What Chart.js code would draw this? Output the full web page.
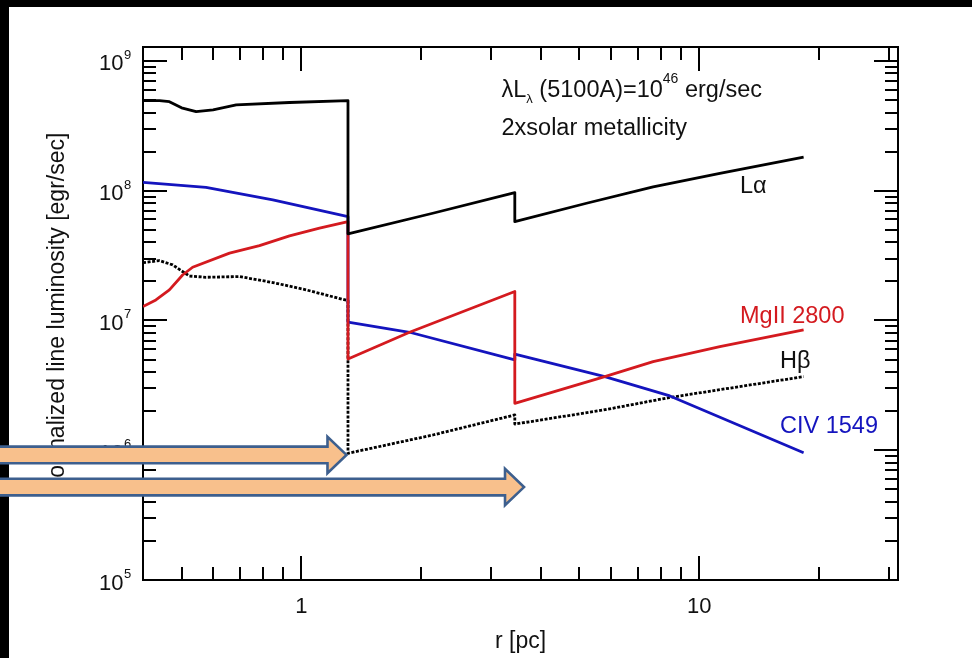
<!DOCTYPE html>
<html>
<head>
<meta charset="utf-8">
<title>Normalized line luminosity vs r</title>
<script src="https://cdn.jsdelivr.net/npm/chart.js@4.4.1/dist/chart.umd.min.js"></script>
<style>
  html, body { margin: 0; padding: 0; background: #fff; }
  #wrap { width: 972px; height: 658px; }
</style>
</head>
<body>
<div id="wrap"><canvas id="chart" width="972" height="658"></canvas></div>
<script>
// values (r in pc, L in erg/s)
const lyaR = [0.40, 0.44, 0.466, 0.50, 0.544, 0.60, 0.686, 0.934, 1.31, 1.31, 2.14, 3.44, 3.44, 5.21, 7.66, 11.27, 18.3];
const lyaL = [4.94e8, 4.94e8, 4.85e8, 4.35e8, 4.06e8, 4.2e8, 4.58e8, 4.78e8, 4.94e8, 4.65e7, 6.7e7, 9.66e7, 5.77e7, 8.0e7, 1.07e8, 1.36e8, 1.81e8];

const civR = [0.40, 0.576, 0.848, 1.31, 1.31, 1.871, 3.44, 3.44, 5.79, 8.44, 18.3];
const civL = [1.16e8, 1.06e8, 8.5e7, 6.31e7, 9.69e6, 8.11e6, 4.97e6, 5.5e6, 3.69e6, 2.62e6, 9.57e5];

const mgR = [0.40, 0.431, 0.466, 0.503, 0.533, 0.66, 0.785, 0.934, 1.111, 1.31, 1.31, 1.871, 3.44, 3.44, 5.79, 7.66, 11.27, 18.3];
const mgL = [1.28e7, 1.44e7, 1.72e7, 2.24e7, 2.57e7, 3.30e7, 3.77e7, 4.48e7, 5.14e7, 5.77e7, 5.05e6, 8.11e6, 1.67e7, 2.3e6, 3.69e6, 4.82e6, 6.28e6, 8.45e6];

const hbR = [0.40, 0.44, 0.475, 0.523, 0.576, 0.699, 0.848, 1.029, 1.31, 1.31, 2.14, 3.44, 3.44, 5.74, 8.44, 18.3];
const hbL = [2.79e7, 2.89e7, 2.68e7, 2.20e7, 2.15e7, 2.18e7, 1.96e7, 1.72e7, 1.42e7, 9.47e5, 1.31e6, 1.87e6, 1.59e6, 2.04e6, 2.55e6, 3.69e6];

const xTickLabels = [1, 10];
const yTickExps = [5, 6, 7, 8, 9];
const xDecades = [-1, 0, 1];
const yDecades = [5, 6, 7, 8, 9];
const arrowTips = [{ x: 1.31, y: 9.2e5 }, { x: 3.66, y: 5.2e5 }];

const FONT = '"Liberation Sans", Arial, Helvetica, sans-serif';
const RED = '#d41a1f';
const BLUE = '#1414be';

function pts(rs, ls) {
    return rs.map((r, i) => ({ x: r, y: ls[i] }));
}

// 1..9 x 10^n for each decade, flagged major on the power of ten
function logTicks(decades) {
    const out = [];
    decades.forEach(e => {
        for (let s = 1; s <= 9; s++) out.push({ value: s * Math.pow(10, e), major: s === 1 });
    });
    return out;
}

function drawRuns(ctx, x, y, runs) {
    runs.forEach(([txt, size, dy]) => {
        ctx.font = size + 'px ' + FONT;
        ctx.fillText(txt, x, y + dy);
        x += ctx.measureText(txt).width;
    });
}

const paperPlugin = {
    id: 'paper',
    beforeDraw(chart) {
        const ctx = chart.ctx;
        ctx.save();
        ctx.fillStyle = '#fff';
        ctx.fillRect(0, 0, chart.width, chart.height);
        ctx.fillStyle = '#000';
        ctx.fillRect(0, 0, chart.width, 7);
        ctx.fillRect(0, 0, 9, chart.height);
        ctx.restore();
    },
    beforeDatasetsDraw(chart) {
        const ctx = chart.ctx;
        const a = chart.chartArea;
        const xs = chart.scales.x, ys = chart.scales.y;
        ctx.save();
        ctx.strokeStyle = '#000';
        ctx.lineWidth = 2;
        ctx.strokeRect(a.left, a.top, a.right - a.left, a.bottom - a.top);

        // inward ticks on all four sides
        ctx.beginPath();
        logTicks(xDecades).forEach(t => {
            const px = Math.round(xs.getPixelForValue(t.value));
            if (px < a.left + 1 || px > a.right - 1) return;
            const len = t.major ? 24 : 13;
            ctx.moveTo(px, a.bottom); ctx.lineTo(px, a.bottom - len);
            ctx.moveTo(px, a.top); ctx.lineTo(px, a.top + len);
        });
        logTicks(yDecades).forEach(t => {
            const py = Math.round(ys.getPixelForValue(t.value));
            if (py < a.top + 1 || py > a.bottom + 0.5) return;
            const len = t.major ? 24 : 13;
            ctx.moveTo(a.left, py); ctx.lineTo(a.left + len, py);
            ctx.moveTo(a.right, py); ctx.lineTo(a.right - len, py);
        });
        ctx.stroke();

        // tick labels
        ctx.fillStyle = '#111';
        ctx.textBaseline = 'alphabetic';
        ctx.font = '22px ' + FONT;
        ctx.textAlign = 'center';
        xTickLabels.forEach(v => {
            ctx.fillText(String(v), xs.getPixelForValue(v), a.bottom + 33);
        });
        yTickExps.forEach(e => {
            const py = ys.getPixelForValue(Math.pow(10, e));
            ctx.font = '22px ' + FONT;
            ctx.textAlign = 'right';
            ctx.fillText('10', a.left - 19.5, py + 9.5);
            ctx.font = '13px ' + FONT;
            ctx.textAlign = 'left';
            ctx.fillText(String(e), a.left - 19, py - 2);
        });

        // axis titles
        ctx.font = '23px ' + FONT;
        ctx.textAlign = 'center';
        ctx.fillText('r [pc]', (a.left + a.right) / 2, a.bottom + 68);
        ctx.save();
        ctx.translate(64, (a.top + a.bottom) / 2);
        ctx.rotate(-Math.PI / 2);
        ctx.fillText('Normalized line luminosity [egr/sec]', 0, 0);
        ctx.restore();
        ctx.restore();
    },
    afterDatasetsDraw(chart) {
        const ctx = chart.ctx;
        ctx.save();
        ctx.textAlign = 'left';
        ctx.textBaseline = 'alphabetic';
        ctx.fillStyle = '#111';
        drawRuns(ctx, 501.5, 96.7, [
            ['\u03bbL', 23.5, 0],
            ['\u03bb', 13, 6.5],
            [' (5100A)=10', 23.5, 0],
            ['46', 14, -13.7],
            [' erg/sec', 23.5, 0]
        ]);
        ctx.font = '23.5px ' + FONT;
        ctx.fillText('2xsolar metallicity', 501.5, 135);
        ctx.fillText('L\u03b1', 740, 193);
        ctx.fillText('H\u03b2', 780, 368);
        ctx.fillStyle = RED;
        ctx.fillText('MgII 2800', 740, 323);
        ctx.fillStyle = BLUE;
        ctx.fillText('CIV 1549', 780, 433);
        ctx.restore();
    },
    afterDraw(chart) {
        const ctx = chart.ctx;
        const xs = chart.scales.x, ys = chart.scales.y;
        ctx.save();
        ctx.fillStyle = '#f8c08c';
        ctx.strokeStyle = '#3d5f8e';
        ctx.lineWidth = 2.6;
        ctx.lineJoin = 'miter';
        arrowTips.forEach(tip => {
            const tx = xs.getPixelForValue(tip.x) - 1.5;
            const ty = ys.getPixelForValue(tip.y);
            const shaft = 8.3, head = 18.2, headLen = 19;
            ctx.beginPath();
            ctx.moveTo(-5, ty - shaft);
            ctx.lineTo(tx - headLen, ty - shaft);
            ctx.lineTo(tx - headLen, ty - head);
            ctx.lineTo(tx, ty);
            ctx.lineTo(tx - headLen, ty + head);
            ctx.lineTo(tx - headLen, ty + shaft);
            ctx.lineTo(-5, ty + shaft);
            ctx.closePath();
            ctx.fill();
            ctx.stroke();
        });
        ctx.restore();
    }
};

const ctx = document.getElementById('chart').getContext('2d');
new Chart(ctx, {
    type: 'line',
    data: {
        // first dataset is drawn on top
        datasets: [
            { label: 'Lya', data: pts(lyaR, lyaL), borderColor: '#000', borderWidth: 2.8 },
            { label: 'MgII 2800', data: pts(mgR, mgL), borderColor: RED, borderWidth: 2.8 },
            { label: 'CIV 1549', data: pts(civR, civL), borderColor: BLUE, borderWidth: 2.8 },
            { label: 'Hb', data: pts(hbR, hbL), borderColor: '#000', borderWidth: 2.8, borderDash: [3, 1.6] }
        ]
    },
    options: {
        responsive: false,
        animation: false,
        devicePixelRatio: 1,
        layout: { padding: { left: 143, top: 47, right: 74, bottom: 78 } },
        plugins: {
            legend: { display: false },
            tooltip: { enabled: false }
        },
        elements: {
            point: { radius: 0, hoverRadius: 0 },
            line: { tension: 0, borderJoinStyle: 'round', borderCapStyle: 'butt', fill: false }
        },
        scales: {
            x: { type: 'logarithmic', min: 0.4, max: 31.6, display: false },
            y: { type: 'logarithmic', min: 1e5, max: 1.28e9, display: false }
        }
    },
    plugins: [paperPlugin]
});
</script>
</body>
</html>
